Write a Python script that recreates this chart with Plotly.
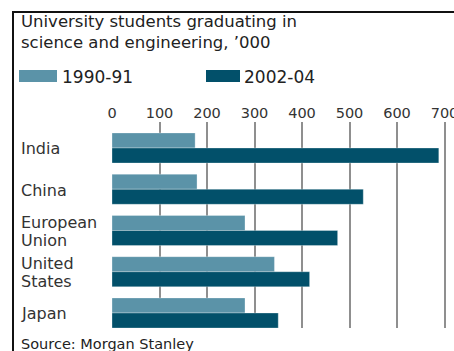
import plotly.graph_objects as go

categories = ["India", "China", "European<br>Union", "United<br>States", "Japan"]
series_names = ["1990-91", "2002-04"]
values_1990 = [175, 179, 280, 342, 280]
values_2002 = [688, 529, 475, 416, 350]
tick_vals = [0, 100, 200, 300, 400, 500, 600, 700]

LIGHT = "#5B93A8"
DARK = "#02506A"
FONT = "DejaVu Sans"

W, H = 454, 351
L, R, T, B = 112, 0, 122, 23
PW, PH = W - L - R, H - T - B


def px(x):
    return (x - L) / PW


def py(y):
    return (H - B - y) / PH


fig = go.Figure()
for name, vals, col in [(series_names[0], values_1990, LIGHT), (series_names[1], values_2002, DARK)]:
    fig.add_trace(go.Bar(
        y=list(range(len(categories))), x=vals, name=name, orientation="h",
        marker=dict(color=col, line=dict(color="rgba(255,255,255,0.5)", width=0.6)),
        showlegend=False,
    ))

shapes = [
    dict(type="line", xref="paper", yref="paper", x0=px(13), x1=px(13), y0=py(11), y1=py(352),
         line=dict(color="#111", width=2)),
    dict(type="line", xref="paper", yref="paper", x0=px(12), x1=px(455), y0=py(12), y1=py(12),
         line=dict(color="#111", width=2)),
    dict(type="rect", xref="paper", yref="paper", x0=px(19), x1=px(57), y0=py(70), y1=py(82),
         fillcolor=LIGHT, line=dict(width=0)),
    dict(type="rect", xref="paper", yref="paper", x0=px(206), x1=px(240), y0=py(70), y1=py(82),
         fillcolor=DARK, line=dict(width=0)),
]

annotations = [
    dict(text="University students graduating in", x=px(19), y=py(21), size=16.5),
    dict(text="science and engineering, \u2019000", x=px(19), y=py(43), size=16.5),
    dict(text=series_names[0], x=px(60), y=py(77), size=17),
    dict(text=series_names[1], x=px(242), y=py(77), size=17),
    dict(text="Source: Morgan Stanley", x=px(19), y=py(344), size=14.5),
]
ann = []
for a in annotations:
    ann.append(dict(text=a["text"], x=a["x"], y=a["y"], xref="paper", yref="paper",
                    xanchor="left", yanchor="middle", showarrow=False, align="left",
                    font=dict(family=FONT, size=a.get("size", 14), color="#222")))
LINE_GAP = 17.5
for i, c in enumerate(categories):
    lines = c.split("<br>")
    n = len(lines)
    for j, line in enumerate(lines):
        shift = ((n - 1) / 2 - j) * LINE_GAP
        ann.append(dict(text=line, x=px(19), y=i, xref="paper", yref="y", yshift=shift - 1,
                        xanchor="left", yanchor="middle", showarrow=False, align="left",
                        font=dict(family=FONT, size=16, color="#333")))

fig.update_layout(template="none")
fig.update_layout(
    width=W, height=H,
    margin=dict(l=L, r=R, t=T, b=B, pad=0),
    paper_bgcolor="white", plot_bgcolor="white",
    barmode="group", bargap=0.27, bargroupgap=0,
    shapes=shapes, annotations=ann,
    xaxis=dict(side="top", range=[0, 720], tickvals=tick_vals,
               ticktext=[str(v) for v in tick_vals],
               showgrid=True, gridcolor="#8f8f8f", gridwidth=1.7,
               zeroline=False, showline=False, ticks="",
               ticklabeloverflow="allow",
               tickfont=dict(family=FONT, size=14.5, color="#333")),
    yaxis=dict(range=[4.364, -0.63], showticklabels=False, showgrid=False,
               zeroline=False, showline=False, ticks=""),
    font=dict(family=FONT),
)

fig.write_html("out.html")
